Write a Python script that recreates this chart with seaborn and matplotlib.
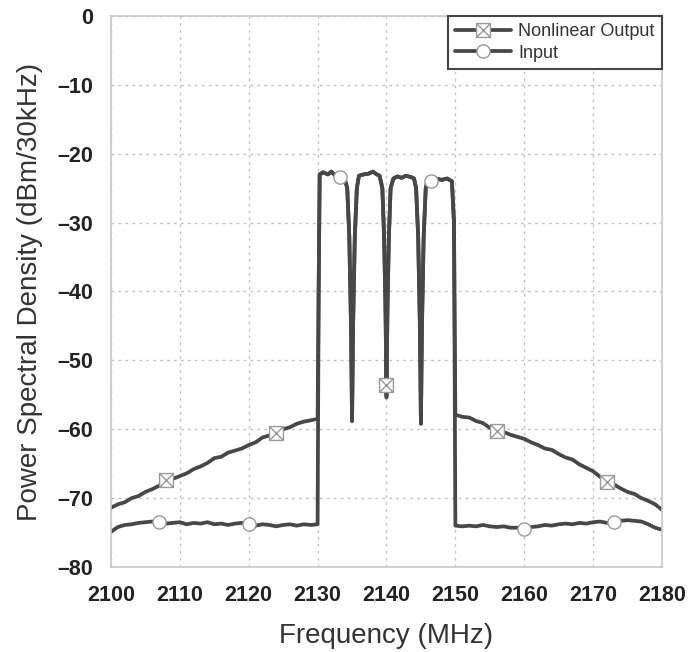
import numpy as np
import pandas as pd
import matplotlib
matplotlib.use("Agg")
import matplotlib.pyplot as plt
from matplotlib.path import Path
from matplotlib.lines import Line2D
from matplotlib.ticker import FuncFormatter
import seaborn as sns

sns.set_theme(style="white")
plt.rcParams["font.family"] = ["Liberation Sans", "DejaVu Sans"]

# out-of-band frequencies (MHz)
freq_left = list(range(2100, 2131))
freq_right = list(range(2150, 2181))

# nonlinear output, lower / upper adjacent channels (dBm/30kHz)
output_left = [-71.4, -70.9, -70.6, -70.0, -69.7, -69.1, -68.7, -68.2, -67.4, -67.2,
               -66.8, -66.4, -65.8, -65.4, -64.9, -64.2, -64.0, -63.4, -63.1, -62.8,
               -62.3, -61.9, -61.2, -60.9, -60.5, -60.0, -59.7, -59.2, -58.9, -58.7,
               -58.5]
output_right = [-57.9, -58.2, -58.3, -58.8, -59.1, -59.8, -60.2, -60.4, -60.8, -61.1,
                -61.4, -61.9, -62.3, -62.8, -63.0, -63.6, -64.1, -64.4, -65.1, -65.6,
                -66.1, -66.9, -67.6, -68.0, -68.6, -69.1, -69.4, -70.0, -70.4, -70.9,
                -71.7]

# input, lower / upper adjacent channels
input_left = [-74.9, -74.2, -73.9, -73.8, -73.6, -73.5, -73.4, -73.5, -73.7, -73.6,
              -73.5, -73.8, -73.6, -73.7, -73.5, -73.8, -73.7, -73.9, -73.7, -73.6,
              -73.7, -74.0, -73.8, -73.9, -74.1, -73.9, -73.8, -74.0, -73.8, -73.9,
              -73.8]
input_right = [-74.0, -74.1, -74.0, -74.1, -73.9, -74.1, -74.2, -74.1, -74.3, -74.3,
               -74.5, -74.2, -74.1, -73.9, -74.0, -73.8, -73.7, -73.8, -73.6, -73.7,
               -73.5, -73.4, -73.6, -73.4, -73.3, -73.2, -73.3, -73.4, -73.8, -74.3,
               -74.6]

# four carriers 2130-2150 MHz (shared by both traces)
band_a_freq = [2130.15, 2130.3, 2130.8, 2131.5, 2132.0, 2132.5, 2133.3, 2133.9, 2134.3,
               2134.6, 2134.85, 2135.0, 2135.15, 2135.4, 2135.7, 2136.0, 2136.7, 2137.4,
               2138.0, 2138.6, 2139.0, 2139.4, 2139.65, 2139.85]
band_a_db = [-40.0, -23.0, -22.7, -23.0, -22.6, -23.1, -23.4, -23.5, -25.0,
             -32.0, -45.0, -58.8, -45.0, -32.0, -25.0, -23.2, -23.0, -22.9,
             -22.6, -23.0, -23.2, -25.0, -32.0, -42.0]
notch_freq = [2140.0]
output_notch = [-53.6]
input_notch = [-55.4]
band_b_freq = [2140.15, 2140.35, 2140.6, 2141.0, 2141.6, 2142.2, 2142.8, 2143.6, 2144.0,
               2144.3, 2144.6, 2144.85, 2145.0, 2145.15, 2145.4, 2145.7, 2146.0, 2146.5,
               2147.2, 2148.0, 2148.8, 2149.5, 2149.8]
band_b_db = [-42.0, -32.0, -25.0, -23.6, -23.3, -23.5, -23.2, -23.4, -23.6,
             -25.0, -32.0, -45.0, -59.2, -45.0, -32.0, -25.0, -23.7, -23.9,
             -23.6, -23.8, -23.6, -24.0, -30.0]

# where the symbols sit
output_mark_freq = [2108, 2124, 2140, 2156, 2172]
input_mark_freq = [2107, 2120, 2133.3, 2146.5, 2160, 2173]

freq = freq_left + band_a_freq + notch_freq + band_b_freq + freq_right
df = pd.DataFrame({
    "freq": freq,
    "output": output_left + band_a_db + output_notch + band_b_db + output_right,
    "input": input_left + band_a_db + input_notch + band_b_db + input_right,
})

line_color = "#474747"
mark_edge = "#9a9a9a"

box_x = Path(
    [(-1, -1), (1, -1), (1, 1), (-1, 1), (-1, -1), (-1, -1), (1, 1), (-1, 1), (1, -1)],
    [Path.MOVETO, Path.LINETO, Path.LINETO, Path.LINETO, Path.CLOSEPOLY,
     Path.MOVETO, Path.LINETO, Path.MOVETO, Path.LINETO],
)

fig = plt.figure(figsize=(6.88, 6.52), dpi=100)
ax = fig.add_axes([0.1613, 0.1304, 0.8009, 0.8451])

sns.lineplot(data=df, x="freq", y="output", estimator=None, sort=False,
             color=line_color, lw=2.7, ax=ax, zorder=2)
sns.lineplot(data=df, x="freq", y="input", estimator=None, sort=False,
             color=line_color, lw=2.7, ax=ax, zorder=2)

out_idx = [int(np.argmin(np.abs(df["freq"] - f))) for f in output_mark_freq]
in_idx = [int(np.argmin(np.abs(df["freq"] - f))) for f in input_mark_freq]
ax.plot(df["freq"].iloc[out_idx], df["output"].iloc[out_idx], ls="none", marker=box_x,
        ms=10, mfc="white", mec=mark_edge, mew=1, zorder=4)
ax.plot(df["freq"].iloc[in_idx], df["input"].iloc[in_idx], ls="none", marker="o",
        ms=9.5, mfc="white", mec=mark_edge, mew=1, zorder=4)

ax.set_xlim(2100, 2180)
ax.set_ylim(-80, 0)
ax.set_xticks(range(2100, 2181, 10))
ax.set_yticks(range(-80, 1, 10))
ax.yaxis.set_major_formatter(FuncFormatter(lambda v, p: f"{v:.0f}".replace("-", "\u2013")))
ax.grid(True, color="#c4c4c4", lw=1, ls=(0, (2, 3)))
for s in ax.spines.values():
    s.set_color("#c8c8c8")
    s.set_linewidth(1.2)
ax.tick_params(axis="x", direction="in", length=5, color="#c8c8c8", pad=13,
               labelsize=15.5, labelcolor="#222222")
ax.tick_params(axis="y", length=0, pad=13, labelsize=15.5, labelcolor="#222222")
for lab in ax.get_xticklabels() + ax.get_yticklabels():
    lab.set_fontweight("bold")

ax.set_xlabel("Frequency (MHz)", fontsize=20, color="#333333", labelpad=12)
ax.set_ylabel("Power Spectral Density (dBm/30kHz)", fontsize=20, color="#333333",
              labelpad=10)

handles = [
    Line2D([], [], color=line_color, lw=2.7, marker=box_x, ms=10, mfc="white",
           mec=mark_edge, mew=1),
    Line2D([], [], color=line_color, lw=2.7, marker="o", ms=9.5, mfc="white",
           mec=mark_edge, mew=1),
]
leg = ax.legend(handles, ["Nonlinear Output", "Input"], loc="upper right",
                borderaxespad=0, fontsize=13, handlelength=3.1, handletextpad=0.4,
                labelspacing=0.25, fancybox=False, framealpha=1)
leg.get_frame().set_edgecolor("#444444")
leg.get_frame().set_linewidth(1.5)
for t in leg.get_texts():
    t.set_color("#333333")

fig.savefig("out.png", dpi=100)
plt.close(fig)
